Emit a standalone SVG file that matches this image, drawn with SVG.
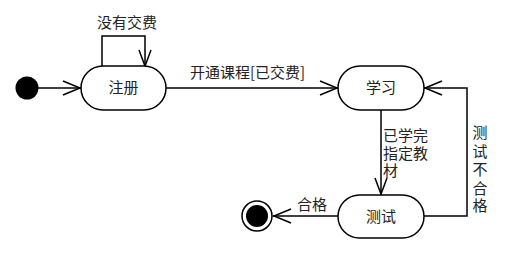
<svg xmlns="http://www.w3.org/2000/svg" width="511" height="258" viewBox="0 0 511 258">
<style>
.st{fill:#fff;stroke:#000;stroke-width:1.5}
.ln{fill:none;stroke:#000;stroke-width:1.5}
.ah{fill:none;stroke:#000;stroke-width:1.5}
text{font-family:"Noto Sans CJK SC","Noto Sans",sans-serif;font-size:15px;fill:#222}
.c{text-anchor:middle}
</style>
<rect width="511" height="258" fill="#fff"/>
<g id="connectors">
<line class="ln" x1="38" y1="88" x2="81" y2="88"/>
<polyline class="ah" points="63,81 80,88 63,95"/>
<polyline class="ln" points="102,66 102,36 145,36 145,66"/>
<polyline class="ah" points="139,50 145,66 151,50"/>
<line class="ln" x1="166" y1="88" x2="338" y2="88"/>
<polyline class="ah" points="320,81 337,88 320,95"/>
<line class="ln" x1="381" y1="109" x2="381" y2="195"/>
<polyline class="ah" points="375,178 381,194 387,178"/>
<polyline class="ln" points="424,216 467,216 467,88 424,88"/>
<polyline class="ah" points="442,81 425,88 442,95"/>
<line class="ln" x1="338" y1="216" x2="273" y2="216"/>
<polyline class="ah" points="291,209 274,216 291,223"/>
<text class="c" x="127" y="28">没有交费</text>
<text x="190" y="78">开通课程[已交费]</text>
<text x="383" y="141">已学完</text>
<text x="383" y="158.5">指定教</text>
<text x="383" y="176">材</text>
<text class="c" x="480" y="138">测</text>
<text class="c" x="480" y="156.5">试</text>
<text class="c" x="480" y="175">不</text>
<text class="c" x="480" y="193.5">合</text>
<text class="c" x="480" y="211">格</text>
<text x="297" y="210">合格</text>
</g>
<g id="initial"><circle cx="27" cy="88" r="11.5" fill="#000"/></g>
<g id="zhuce"><rect class="st" x="81" y="66" width="85" height="44" rx="22"/><text class="c" x="123.5" y="93">注册</text></g>
<g id="xuexi"><rect class="st" x="338" y="66" width="86" height="44" rx="22"/><text class="c" x="381" y="93">学习</text></g>
<g id="ceshi"><rect class="st" x="338" y="195" width="86" height="43" rx="21.5"/><text class="c" x="381" y="222">测试</text></g>
<g id="final"><circle cx="257" cy="216" r="15" fill="#fff" stroke="#000" stroke-width="1.5"/><circle cx="257" cy="216" r="11" fill="#000"/></g>
</svg>
